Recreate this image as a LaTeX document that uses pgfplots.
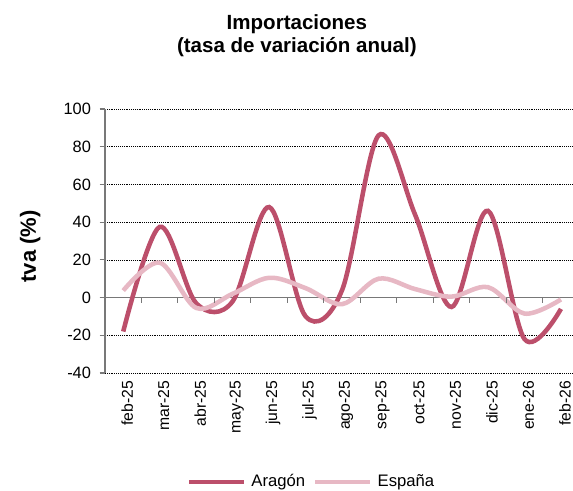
\documentclass[border=0pt]{standalone}
\usepackage{pgfplots}
\pgfplotsset{compat=1.18}
\usepackage{fontspec}
\setmainfont{Liberation Sans}
\definecolor{aragon}{RGB}{188,79,107}
\definecolor{espana}{RGB}{231,184,196}
\definecolor{axgray}{RGB}{120,120,120}
\begin{document}
\begin{tikzpicture}
\begin{axis}[
  at={(0,0)}, anchor=south west,
  scale only axis, width=351pt, height=198pt,
  xmin=-0.5, xmax=12.33, ymin=-40, ymax=100,
  axis y line*=left, axis x line*=bottom,
  x axis line style={draw=none},
  y axis line style={draw=axgray, line width=0.8pt},
  xtick={0,...,12},
  xticklabels={feb-25,mar-25,abr-25,may-25,jun-25,jul-25,ago-25,sep-25,oct-25,nov-25,dic-25,ene-26,feb-26},
  xtick style={draw=none},
  xticklabel style={rotate=90, anchor=east, font=\fontsize{11.8}{14}\selectfont, yshift=-3pt, xshift=-0.8pt, inner sep=1pt},
  ytick={-40,-20,0,20,40,60,80,100},
  yticklabels={-40,-20,0,20,40,60,80,100},
  yticklabel style={font=\fontsize{12.3}{14}\selectfont, xshift=-3pt},
  ytick style={draw=axgray, line width=0.8pt},
  tick align=outside, major tick length=4pt,
  ymajorgrids, grid style={densely dotted, black, line width=0.5pt},
  extra y ticks={0}, extra y tick labels={},
  extra y tick style={grid style={solid, draw=axgray, line width=0.8pt}},
  ylabel={\bfseries tva (\%)},
  ylabel style={at={(axis description cs:-0.16,0.48)}, anchor=center, font=\fontsize{16.5}{18}\selectfont},
  title={\bfseries Importaciones\\\bfseries (tasa de variación anual)},
  title style={at={(axis description cs:0.41,1)}, anchor=south, inner sep=0pt, yshift=33pt, align=center, font=\fontsize{15.4}{17.2}\selectfont},
  legend columns=2,
  legend style={at={(axis description cs:0.442,-0.412)}, anchor=center, draw=none, fill=none,
    font=\fontsize{12.5}{14}\selectfont, column sep=2pt,
    /tikz/every even column/.append style={column sep=4pt}},
  legend image code/.code={\draw[#1] (0pt,0pt) -- (41pt,0pt);},
  clip=true,
]
\addplot[aragon, line width=3.4pt, smooth, tension=0.55] table {
x y
0 -18
1 37.5
2 -3
3 -2
4 48
5 -10
6 4
7 86
8 44
9 -5
10 46
11 -22
12 -6
};
\addlegendentry{Aragón}
\addplot[espana, line width=3.4pt, smooth, tension=0.55] table {
x y
0 3.7
1 18.5
2 -5.5
3 2
4 10.5
5 5
6 -3.5
7 10
8 4.5
9 0.5
10 5.5
11 -8.5
12 -1
};
\addlegendentry{España}
\pgfplotsinvokeforeach{0.5,1.5,2.5,3.5,4.5,5.5,6.5,7.5,8.5,9.5,10.5,11.5}{
  \draw[axgray, line width=0.8pt] (axis cs:#1,0) -- ++(0pt,-4pt);
}
\end{axis}
\pgfresetboundingbox
\path[use as bounding box] (-78.75pt,-88.5pt) rectangle (351pt,279.75pt);
\end{tikzpicture}
\end{document}
